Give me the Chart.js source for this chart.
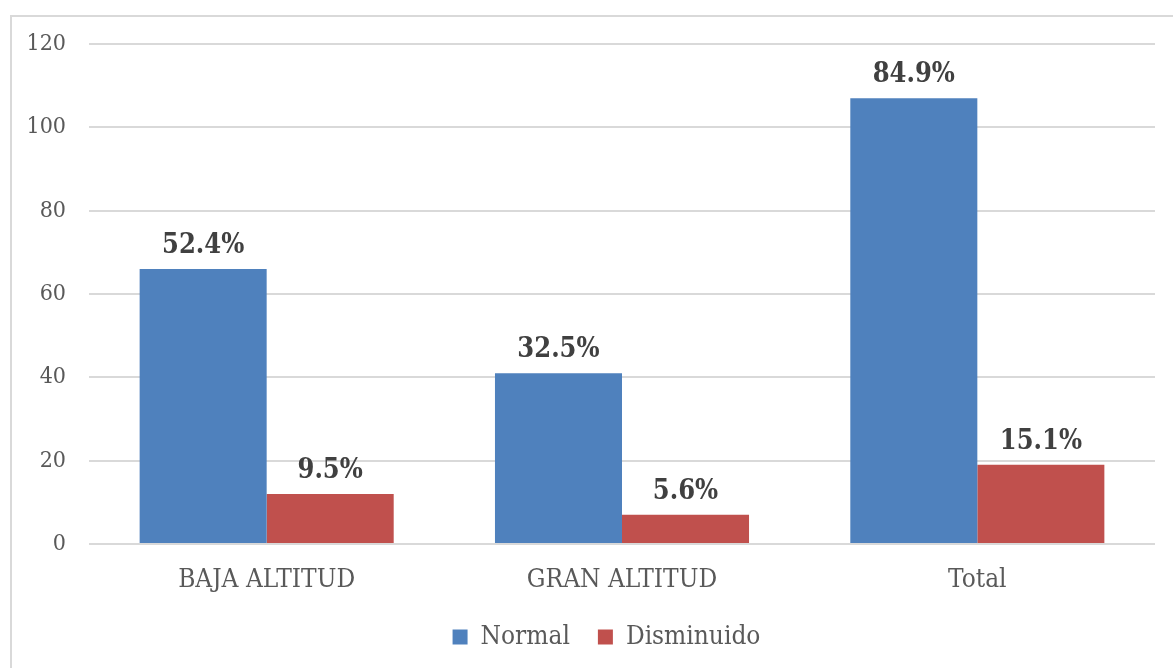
<!DOCTYPE html>
<html>
<head>
<meta charset="utf-8">
<script src="https://cdn.jsdelivr.net/npm/chart.js@4.4.1/dist/chart.umd.min.js"></script>
<style>
  html, body { margin: 0; padding: 0; background: #ffffff; }
  #wrap { position: relative; width: 1173px; height: 668px; overflow: hidden; }
  #frame { position: absolute; left: 10px; top: 15px; width: 1200px; height: 700px;
           border: 2px solid #d9d9d9; box-sizing: border-box; }
  #c { position: absolute; left: 0; top: 0; }
</style>
</head>
<body>
<div id="wrap">
  <div id="frame"></div>
  <canvas id="c" width="1173" height="668"></canvas>
</div>
<script>
const categories = ['BAJA ALTITUD', 'GRAN ALTITUD', 'Total'];
const normalValues = [66, 41, 107];
const disminuidoValues = [12, 7, 19];
const yTicks = [0, 20, 40, 60, 80, 100, 120];

// Percent labels are shares of the overall total (Total column).
const grandTotal = normalValues[2] + disminuidoValues[2];
const pct = v => (v / grandTotal * 100).toFixed(1) + '%';

const FONT = "'DejaVu Serif Condensed', 'DejaVu Serif', serif";

const valueLabels = {
  id: 'valueLabels',
  afterDatasetsDraw(chart) {
    const ctx = chart.ctx;
    ctx.save();
    ctx.font = 'bold 27px ' + FONT;
    ctx.fillStyle = '#404040';
    ctx.textAlign = 'center';
    ctx.textBaseline = 'alphabetic';
    chart.data.datasets.forEach((ds, di) => {
      chart.getDatasetMeta(di).data.forEach((bar, i) => {
        ctx.fillText(pct(ds.data[i]), bar.x, bar.y - 16);
      });
    });
    ctx.restore();
  }
};

// Nudge the legend block a little right of the canvas centre.
const legendShift = {
  id: 'legendShift',
  afterLayout(chart) {
    if (chart.legend) { chart.legend.left += 29; chart.legend.right += 29; }
  }
};

new Chart(document.getElementById('c'), {
  type: 'bar',
  data: {
    labels: categories,
    datasets: [
      { label: 'Normal', data: normalValues, backgroundColor: '#4F81BD' },
      { label: 'Disminuido', data: disminuidoValues, backgroundColor: '#C0504D' }
    ]
  },
  options: {
    responsive: false,
    animation: false,
    devicePixelRatio: 1,
    layout: { padding: { left: 0, right: 18, top: 44, bottom: 8 } },
    datasets: { bar: { categoryPercentage: 0.715, barPercentage: 1.0 } },
    plugins: {
      tooltip: { enabled: false },
      legend: {
        position: 'bottom',
        labels: {
          boxWidth: 15, boxHeight: 15, padding: 28,
          color: '#595959',
          font: { family: FONT, size: 26 }
        }
      }
    },
    scales: {
      x: {
        grid: { display: false },
        border: { display: false },
        ticks: { color: '#595959', font: { family: FONT, size: 26 }, padding: 13 },
        afterFit(s) { s.height = 52; }
      },
      y: {
        min: 0, max: 120,
        afterBuildTicks(s) { s.ticks = yTicks.map(v => ({ value: v })); },
        grid: { color: '#d9d9d9', lineWidth: 2, drawTicks: false },
        border: { display: false },
        ticks: { color: '#595959', font: { family: FONT, size: 23 }, padding: 23 },
        afterFit(s) { s.width = 89; }
      }
    }
  },
  plugins: [valueLabels, legendShift]
});
</script>
</body>
</html>
